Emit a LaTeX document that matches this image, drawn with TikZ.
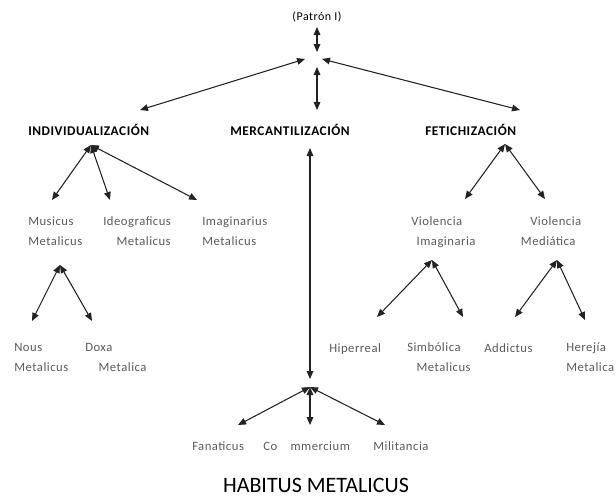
\documentclass[tikz,border=0pt]{standalone}
\usepackage{fontspec}
\setmainfont{Carlito}
\usetikzlibrary{arrows.meta,positioning}
\definecolor{labelgray}{RGB}{90,90,90}
\definecolor{linegray}{RGB}{35,35,35}

\begin{document}
\begin{tikzpicture}[x=0.75pt,y=-0.75pt]

	\tikzset{line/.style={draw=linegray,line width=0.8pt}}
	\tikzset{twoway/.style={line,{Triangle[length=6pt,width=5pt]}-{Triangle[length=6pt,width=5pt]}}}
	\tikzset{head/.style={inner sep=0pt,anchor=base west,font=\bfseries\fontsize{10}{12}\selectfont\addfontfeature{LetterSpace=4}}}
	\tikzset{leaf/.style={inner sep=0pt,anchor=base west,align=left,text=labelgray,font=\fontsize{9.5}{14.5}\selectfont\addfontfeature{LetterSpace=4}}}

	\useasboundingbox (0,0) rectangle (616,497);

	% top
	\node[inner sep=0pt,anchor=base,font=\fontsize{9}{11}\selectfont\addfontfeature{LetterSpace=4}] (patron) at (317,20) {(Patrón I)};
	\coordinate (patronEnd) at (317,27);
	\coordinate (hubIn) at (317,52);
	\coordinate (hubL) at (305,59);
	\coordinate (hubR) at (322,59);
	\coordinate (hubOut) at (317,67);

	% headers
	\node[head] (indiv) at (28,135) {INDIVIDUALIZACIÓN};
	\node[head] (merc) at (230,135) {MERCANTILIZACIÓN};
	\node[head] (fetich) at (425,135) {FETICHIZACIÓN};

	\coordinate (indivIn) at (140,110);
	\coordinate (mercIn) at (317,110);
	\coordinate (fetichIn) at (520,110);

	% hubs below the headers
	\coordinate (indivHub) at (91,145);
	\coordinate (mercTop) at (310,148);
	\coordinate (mercBot) at (310,379);
	\coordinate (mercHub) at (310,387);
	\coordinate (fetichHub) at (505,144);

	% individualizacion (multi-line nodes sit on their last line)
	\node[leaf] (musicus) at (28,245) {Musicus\\Metalicus};
	\node[leaf] (ideo) at (103,245) {Ideograficus\\\hspace{10pt}Metalicus};
	\node[leaf] (imag) at (202,245) {Imaginarius\\Metalicus};
	\coordinate (musicusIn) at (52,200);
	\coordinate (ideoIn) at (110,200);
	\coordinate (imagIn) at (197,200);
	\coordinate (musicusHub) at (60,265);

	\node[leaf] (nous) at (14,371) {Nous\\Metalicus};
	\node[leaf] (doxa) at (85,371) {Doxa\\\hspace{10pt}Metalica};
	\coordinate (nousIn) at (32,321);
	\coordinate (doxaIn) at (92,321);

	% mercantilizacion
	\node[leaf] (fanaticus) at (192,450) {Fanaticus};
	\node[leaf] (commercium) at (263,450) {Co\hspace{10pt}mmercium};
	\node[leaf] (militancia) at (373,450) {Militancia};
	\coordinate (fanaticusIn) at (238,425);
	\coordinate (commerciumIn) at (310,425);
	\coordinate (militanciaIn) at (385,425);

	% fetichizacion
	\node[leaf] (violImag) at (411,245) {Violencia\\\hspace{4pt}Imaginaria};
	\node[leaf] (violMed) at (530,245) {Violencia\\\hspace{-7pt}Mediática};
	\coordinate (violImagIn) at (465,199);
	\coordinate (violMedIn) at (545,199);
	\coordinate (violImagHub) at (432,260);
	\coordinate (violMedHub) at (557,260);

	\node[leaf] (hiper) at (329,352) {Hiperreal};
	\node[leaf] (simb) at (407,371) {Simbólica\\\hspace{7pt}Metalicus};
	\node[leaf] (addictus) at (484,352) {Addictus};
	\node[leaf] (herejia) at (566,371) {Herejía\\Metalica};
	\coordinate (hiperIn) at (377,317);
	\coordinate (simbIn) at (463,317);
	\coordinate (addictusIn) at (515,317);
	\coordinate (herejiaIn) at (585,320);

	\node[inner sep=0pt,anchor=base,font=\fontsize{16.5}{20}\selectfont] (habitus) at (316,492) {HABITUS METALICUS};

	% connectors
	\path[twoway] (patronEnd) to (hubIn);
	\path[twoway] (hubL) to (indivIn);
	\path[twoway] (hubR) to (fetichIn);
	\path[twoway] (hubOut) to (mercIn);

	\path[twoway] (indivHub) to (musicusIn);
	\path[twoway] (indivHub) to (ideoIn);
	\path[twoway] (indivHub) to (imagIn);
	\path[twoway] (musicusHub) to (nousIn);
	\path[twoway] (musicusHub) to (doxaIn);

	\path[twoway] (mercTop) to (mercBot);
	\path[twoway] (mercHub) to (fanaticusIn);
	\path[twoway] (mercHub) to (commerciumIn);
	\path[twoway] (mercHub) to (militanciaIn);

	\path[twoway] (fetichHub) to (violImagIn);
	\path[twoway] (fetichHub) to (violMedIn);
	\path[twoway] (violImagHub) to (hiperIn);
	\path[twoway] (violImagHub) to (simbIn);
	\path[twoway] (violMedHub) to (addictusIn);
	\path[twoway] (violMedHub) to (herejiaIn);

\end{tikzpicture}
\end{document}
